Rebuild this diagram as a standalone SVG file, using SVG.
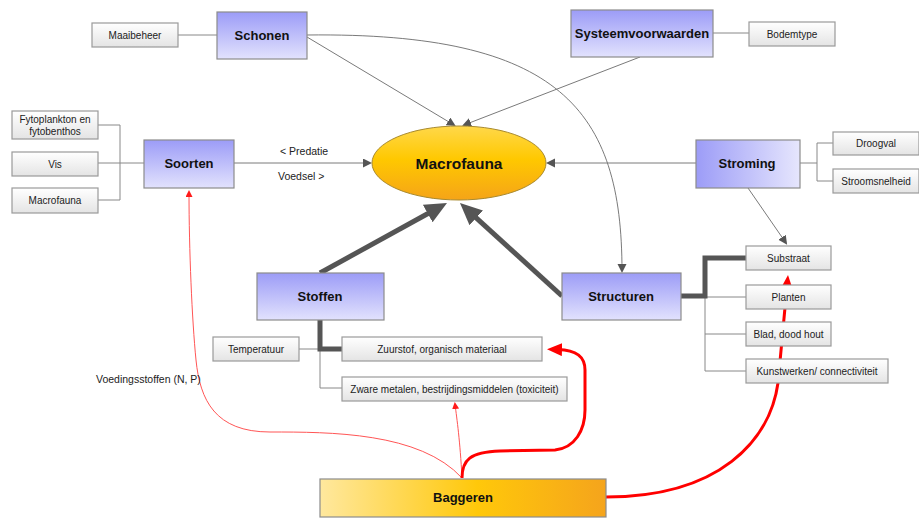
<svg xmlns="http://www.w3.org/2000/svg" width="919" height="518" viewBox="0 0 919 518">
  <defs>
    <linearGradient id="gBlue" x1="0" y1="0" x2="0" y2="1">
      <stop offset="0" stop-color="#9c9cf7"/>
      <stop offset="1" stop-color="#e2e2fd"/>
    </linearGradient>
    <linearGradient id="gBlueH" x1="0" y1="0" x2="1" y2="0">
      <stop offset="0" stop-color="#9c9cf7"/>
      <stop offset="1" stop-color="#e6e6fd"/>
    </linearGradient>
    <linearGradient id="gGrey" x1="0" y1="0" x2="0" y2="1">
      <stop offset="0" stop-color="#ffffff"/>
      <stop offset="1" stop-color="#e4e4e4"/>
    </linearGradient>
    <linearGradient id="gEll" x1="0" y1="0" x2="0" y2="1">
      <stop offset="0" stop-color="#ffd84a"/>
      <stop offset="0.45" stop-color="#ffc800"/>
      <stop offset="1" stop-color="#f5a418"/>
    </linearGradient>
    <linearGradient id="gBag" x1="0" y1="0" x2="1" y2="0">
      <stop offset="0" stop-color="#ffe89e"/>
      <stop offset="0.55" stop-color="#ffc80a"/>
      <stop offset="1" stop-color="#f5a41c"/>
    </linearGradient>
    <marker id="aThin" markerUnits="userSpaceOnUse" markerWidth="10" markerHeight="10" refX="7" refY="4.5" orient="auto">
      <path d="M0,0 L9,4.5 L0,9 z" fill="#555"/>
    </marker>
    <marker id="aThick" markerUnits="userSpaceOnUse" markerWidth="24" markerHeight="22" refX="6" refY="10" orient="auto">
      <path d="M0,0 L22,10 L0,20 z" fill="#555"/>
    </marker>
    <marker id="aRedThin" markerUnits="userSpaceOnUse" markerWidth="8" markerHeight="8" refX="5" refY="3.5" orient="auto">
      <path d="M0,0 L7,3.5 L0,7 z" fill="#ff1a1a"/>
    </marker>
    <marker id="aRed" markerUnits="userSpaceOnUse" markerWidth="16" markerHeight="14" refX="4" refY="6.5" orient="auto">
      <path d="M0,0 L15,6.5 L0,13 z" fill="#ff0000"/>
    </marker>
  </defs>
  <style>
    .main { stroke: #8c8c8c; stroke-width: 1.2; }
    .sub { fill: url(#gGrey); stroke: #9a9a9a; stroke-width: 1.2; }
    .lbl { font-family: "Liberation Sans", Arial, sans-serif; font-weight: bold; font-size: 13px; fill: #111; text-anchor: middle; dominant-baseline: central; }
    .sml { font-family: "Liberation Sans", Arial, sans-serif; font-size: 10px; fill: #222; text-anchor: middle; dominant-baseline: central; }
    .note { font-family: "Liberation Sans", Arial, sans-serif; font-size: 10.5px; fill: #222; dominant-baseline: central; }
    .thin { fill: none; stroke: #7a7a7a; stroke-width: 1; }
    .tree { fill: none; stroke: #888; stroke-width: 1; }
    .thick { fill: none; stroke: #555; stroke-width: 5; }
    .redThin { fill: none; stroke: #ff5555; stroke-width: 1; }
    .red { fill: none; stroke: #ff0000; stroke-width: 3; }
  </style>
  <rect width="919" height="518" fill="#ffffff"/>

  <!-- connectors -->
  <g id="connectors">
    <!-- tree lines -->
    <path class="tree" d="M178,35 H217"/>
    <path class="tree" d="M713,33 H749"/>
    <path class="tree" d="M98,125 H120 V200 H98 M98,163 H144"/>
    <path class="tree" d="M800,163 H817 M833,143 H817 V181 H833"/>
    <path class="tree" d="M705,258 V371 H746 M705,297 H746 M705,334 H746"/>
    <path class="thick" d="M681,296 H705 V258 H746"/>
    <path class="tree" d="M299,349 H320 M320,349 V388 H342"/>
    <path class="thick" d="M320,320 V349 H342"/>

    <!-- influence arrows -->
    <path class="thin" d="M307,37 L454,125" marker-end="url(#aThin)"/>
    <path class="thin" d="M640,57 L464,125" marker-end="url(#aThin)"/>
    <path class="thin" d="M234,163 L370,163" marker-end="url(#aThin)"/>
    <path class="thin" d="M696,163 L548,163" marker-end="url(#aThin)"/>
    <path class="thin" d="M748,188 L786,243" marker-end="url(#aThin)"/>
    <path class="thin" d="M307,35 C560,32 622,110 622,271" marker-end="url(#aThin)"/>
    <path class="thick" d="M320,273 L433,210.7" marker-end="url(#aThick)"/>
    <path class="thick" d="M562,296 L471.8,213.8" marker-end="url(#aThick)"/>

    <!-- dredging effects -->
    <path class="redThin" d="M462,478 C420,432 330,432 270,432 C215,432 200,400 196,360 C192,320 189,250 189,192" marker-end="url(#aRedThin)"/>
    <path class="redThin" d="M462,478 C460,440 457,420 455,404" marker-end="url(#aRedThin)"/>
    <path class="red" d="M462,478 C462,460 470,452 500,451 L555,450 C575,448 585,430 585,410 L585,370 C585,356 576,350 558,349.5" marker-end="url(#aRed)"/>
    <path class="red" d="M606,497 C720,497 770,440 778,383 L787,286" marker-end="url(#aRed)"/>
  </g>

  <!-- labels on connectors -->
  <text class="note" x="280" y="151">&lt; Predatie</text>
  <text class="note" x="278" y="176">Voedsel &gt;</text>
  <text class="note" x="96" y="379">Voedingsstoffen (N, P)</text>

  <!-- main nodes -->
  <g id="schonen"><rect x="217" y="12" width="90" height="47" fill="url(#gBlue)" class="main"/><text class="lbl" x="262" y="35">Schonen</text></g>
  <g id="systeemvoorwaarden"><rect x="571" y="10" width="142" height="47" fill="url(#gBlue)" class="main"/><text class="lbl" x="642" y="33">Systeemvoorwaarden</text></g>
  <g id="soorten"><rect x="144" y="140" width="90" height="48" fill="url(#gBlue)" class="main"/><text class="lbl" x="189" y="163">Soorten</text></g>
  <g id="stroming"><rect x="696" y="140" width="104" height="48" fill="url(#gBlueH)" class="main"/><text class="lbl" x="747" y="163">Stroming</text></g>
  <g id="stoffen"><rect x="257" y="273" width="127" height="47" fill="url(#gBlue)" class="main"/><text class="lbl" x="320" y="296">Stoffen</text></g>
  <g id="structuren"><rect x="562" y="273" width="119" height="47" fill="url(#gBlue)" class="main"/><text class="lbl" x="621" y="296">Structuren</text></g>
  <g id="macrofauna"><ellipse cx="459" cy="163" rx="87" ry="37" fill="url(#gEll)" stroke="#a88a30" stroke-width="1"/><text class="lbl" x="459" y="163" style="font-size:15.5px">Macrofauna</text></g>
  <g id="baggeren"><rect x="320" y="479" width="286" height="38" fill="url(#gBag)" stroke="#8c8c8c" stroke-width="1.2"/><text class="lbl" x="463" y="497">Baggeren</text></g>

  <!-- sub nodes -->
  <g id="maaibeheer"><rect class="sub" x="92" y="23" width="86" height="24"/><text class="sml" x="135" y="35">Maaibeheer</text></g>
  <g id="bodemtype"><rect class="sub" x="749" y="22" width="86" height="24"/><text class="sml" x="792" y="34">Bodemtype</text></g>
  <g id="fytoplankton"><rect class="sub" x="12" y="111" width="86" height="28"/><text class="sml" x="55" y="119">Fytoplankton en</text><text class="sml" x="55" y="131">fytobenthos</text></g>
  <g id="vis"><rect class="sub" x="12" y="152" width="86" height="24"/><text class="sml" x="55" y="164">Vis</text></g>
  <g id="macrofauna-soort"><rect class="sub" x="12" y="188" width="86" height="25"/><text class="sml" x="55" y="200.5">Macrofauna</text></g>
  <g id="droogval"><rect class="sub" x="833" y="132" width="86" height="23"/><text class="sml" x="876" y="143.5">Droogval</text></g>
  <g id="stroomsnelheid"><rect class="sub" x="833" y="169" width="86" height="24"/><text class="sml" x="876" y="181">Stroomsnelheid</text></g>
  <g id="substraat"><rect class="sub" x="746" y="246" width="85" height="24"/><text class="sml" x="788.5" y="258">Substraat</text></g>
  <g id="planten"><rect class="sub" x="746" y="285" width="85" height="24"/><text class="sml" x="788.5" y="297">Planten</text></g>
  <g id="blad"><rect class="sub" x="746" y="322" width="85" height="24"/><text class="sml" x="788.5" y="334">Blad, dood hout</text></g>
  <g id="kunstwerken"><rect class="sub" x="746" y="359" width="142" height="24"/><text class="sml" x="817" y="371">Kunstwerken/ connectiviteit</text></g>
  <g id="temperatuur"><rect class="sub" x="213" y="337" width="86" height="24"/><text class="sml" x="256" y="349">Temperatuur</text></g>
  <g id="zuurstof"><rect class="sub" x="342" y="337" width="200" height="24"/><text class="sml" x="442" y="349">Zuurstof, organisch materiaal</text></g>
  <g id="zware-metalen"><rect class="sub" x="342" y="377" width="225" height="24"/><text class="sml" x="454.5" y="389">Zware metalen, bestrijdingsmiddelen (toxiciteit)</text></g>
</svg>
